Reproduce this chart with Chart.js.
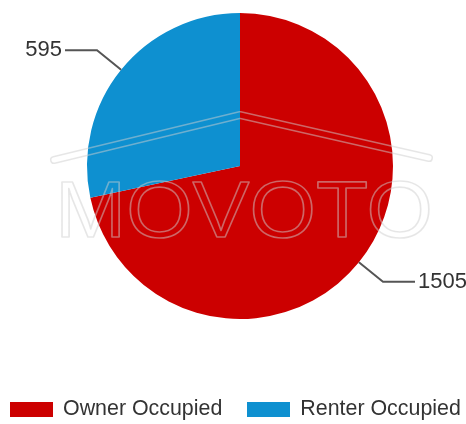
<!DOCTYPE html>
<html><head><meta charset="utf-8">
<script src="https://cdn.jsdelivr.net/npm/chart.js@4/dist/chart.umd.min.js"></script>
<style>
html,body{margin:0;padding:0;background:#fff;}
#wrap{width:466px;height:424px;position:relative;overflow:hidden;}
#c{position:absolute;left:0;top:0;}
#legend{position:absolute;left:10px;top:396px;font-family:"Liberation Sans",Arial,sans-serif;font-size:21.4px;line-height:24px;color:#333;white-space:nowrap;}
#legend .item{display:inline-block;margin-right:25px;}
#legend .box{display:inline-block;width:43px;height:15px;margin-right:10px;vertical-align:-2px;}
</style>
</head><body><div id="wrap"><canvas id="c" width="466" height="424"></canvas><div id="legend"></div></div>
<script>
const categories = ['Owner Occupied', 'Renter Occupied'];
const values = [1505, 595];
const sliceColors = ['#CC0000', '#0E90D0'];

const leaderPlugin = {
  id: 'leaders',
  afterDatasetsDraw(chart) {
    const ctx = chart.ctx;
    const meta = chart.getDatasetMeta(0);
    ctx.save();
    meta.data.forEach((arc, i) => {
      const p = arc.getProps(['x','y','startAngle','endAngle','outerRadius'], true);
      const mid = (p.startAngle + p.endAngle) / 2;
      const cx = Math.cos(mid), sy = Math.sin(mid);
      const x0 = p.x + cx * p.outerRadius, y0 = p.y + sy * p.outerRadius;
      const x1 = p.x + cx * (p.outerRadius + 31), y1 = p.y + sy * (p.outerRadius + 31);
      const dir = cx >= 0 ? 1 : -1;
      const x2 = x1 + dir * 32;
      ctx.strokeStyle = '#555';
      ctx.lineWidth = 2;
      ctx.beginPath();
      ctx.moveTo(x0, y0); ctx.lineTo(x1, y1); ctx.lineTo(x2, y1);
      ctx.stroke();
      ctx.fillStyle = '#333';
      ctx.font = '22px "Liberation Sans", Arial, sans-serif';
      ctx.textBaseline = 'middle';
      ctx.textAlign = dir > 0 ? 'left' : 'right';
      ctx.fillText(String(values[i]), x2 + dir * 3, y1);
    });
    ctx.restore();
  }
};

const watermarkPlugin = {
  id: 'watermark',
  afterDraw(chart) {
    const ctx = chart.ctx;
    const off = document.createElement('canvas');
    off.width = chart.width; off.height = chart.height;
    const o = off.getContext('2d');
    o.lineCap = 'round'; o.lineJoin = 'round';
    o.strokeStyle = '#000';
    o.beginPath(); o.moveTo(54, 160); o.lineTo(240, 115); o.lineTo(429, 158);
    o.lineWidth = 8; o.stroke();
    o.globalCompositeOperation = 'destination-out';
    o.lineWidth = 5; o.stroke();
    o.globalCompositeOperation = 'source-over';
    o.font = '80px "Liberation Sans", Arial, sans-serif';
    const w = o.measureText('MOVOTO').width;
    o.save();
    o.translate(55, 237);
    o.scale(378 / w, 1);
    o.lineWidth = 1.6;
    o.textBaseline = 'alphabetic';
    o.strokeText('MOVOTO', 0, 0);
    o.restore();
    o.globalCompositeOperation = 'source-in';
    o.fillStyle = 'rgba(205,205,205,0.5)';
    o.fillRect(0, 0, off.width, off.height);
    ctx.drawImage(off, 0, 0);
  }
};

new Chart(document.getElementById('c'), {
  type: 'pie',
  data: {
    labels: categories,
    datasets: [{ data: values, backgroundColor: sliceColors, borderWidth: 0, hoverOffset: 0 }]
  },
  options: {
    responsive: false,
    animation: false,
    devicePixelRatio: 1,
    layout: { padding: { top: 13, bottom: 105, left: 14, right: 0 } },
    plugins: { legend: { display: false }, tooltip: { enabled: false } }
  },
  plugins: [leaderPlugin, watermarkPlugin]
});

const lg = document.getElementById('legend');
categories.forEach((c, i) => {
  const it = document.createElement('span'); it.className = 'item';
  const b = document.createElement('span'); b.className = 'box'; b.style.background = sliceColors[i];
  it.appendChild(b); it.appendChild(document.createTextNode(c));
  lg.appendChild(it);
});
</script>
</body></html>
